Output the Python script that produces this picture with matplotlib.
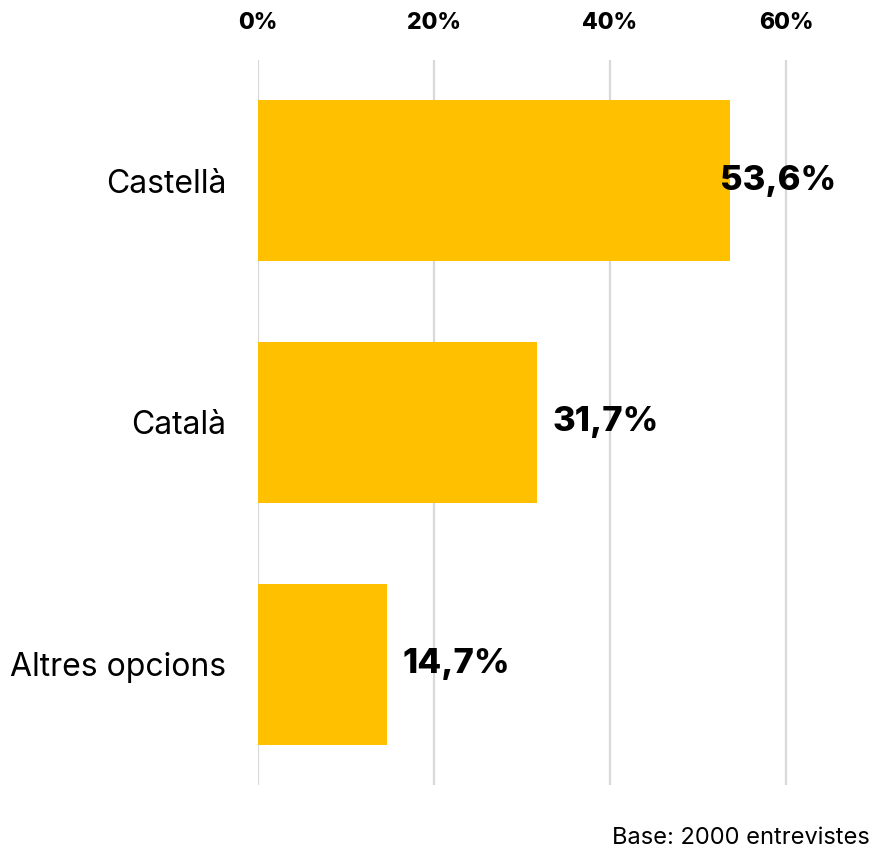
import matplotlib
matplotlib.use("Agg")
import matplotlib.pyplot as plt
from matplotlib.ticker import FuncFormatter

plt.rcParams['font.family'] = ['Inter', 'DejaVu Sans']

# dades
categories = ["Castellà", "Català", "Altres opcions"]
values = [53.6, 31.7, 14.7]
value_labels = ["53,6%", "31,7%", "14,7%"]
xticks = [0, 20, 40, 60]
footnote = "Base: 2000 entrevistes"

BAR_COLOR = "#FFC000"
GRID_COLOR = "#D9D9D9"

fig = plt.figure(figsize=(8.75, 8.49), dpi=100)
ax = fig.add_axes([258 / 875, 64 / 849, 616 / 875, 725 / 849])

ypos = list(range(len(categories)))
ax.barh(ypos, values, height=0.667, color=BAR_COLOR, zorder=2)

ax.set_xlim(0, 70)
ax.set_ylim(2.5, -0.5)
ax.set_xticks(xticks)
ax.xaxis.set_major_formatter(FuncFormatter(lambda v, p: f"{v:.0f}%"))
ax.xaxis.tick_top()
ax.tick_params(axis='x', length=0, pad=19, labelsize=16.5)
for lbl in ax.get_xticklabels():
    lbl.set_fontweight('heavy')
ax.grid(axis='x', color=GRID_COLOR, linewidth=1.6, zorder=0)
ax.set_axisbelow(True)

ax.set_yticks(ypos)
ax.set_yticklabels(categories, fontsize=23)
ax.tick_params(axis='y', length=0, pad=23)

for s in ax.spines.values():
    s.set_visible(False)

# etiquetes de valor (la primera queda sobre la barra)
for i, (v, txt) in enumerate(zip(values, value_labels)):
    off = -7 if i == 0 else 11
    ax.annotate(txt, (v, i), xytext=(off, 0), textcoords='offset points',
                ha='left', va='center', fontsize=25, fontweight='heavy',
                color='black', zorder=3)

fig.text(870 / 875, 1 - 838 / 849, footnote, ha='right', va='center', fontsize=17)

fig.savefig("out.png", dpi=100)
